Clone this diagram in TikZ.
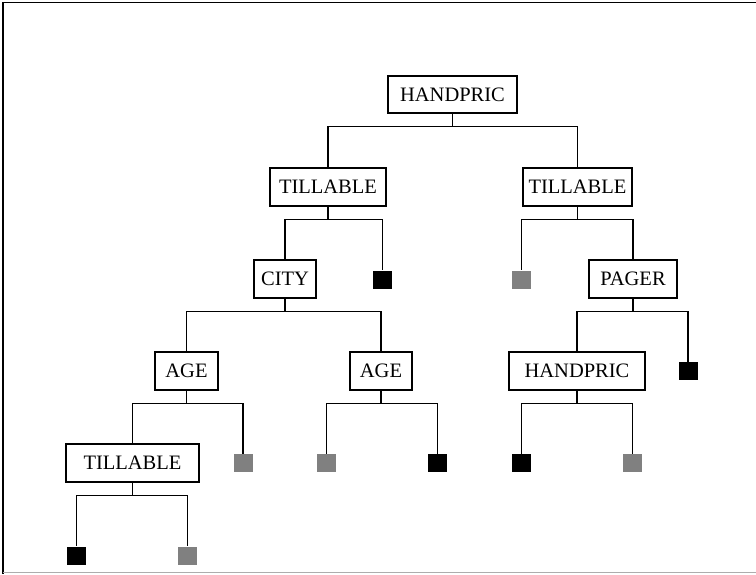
\documentclass[tikz,border=0pt]{standalone}
\usepackage{fontspec}
\setmainfont{Liberation Serif}
\begin{document}
\begin{tikzpicture}[x=1pt,y=-1pt,
  box/.style={draw=black,line width=1.1pt,fill=white,minimum height=38pt,inner sep=0pt,
    font=\fontsize{20.5}{23}\selectfont},
  leafb/.style={fill=black,minimum width=19pt,minimum height=18pt,inner sep=0pt},
  leafg/.style={fill=gray,minimum width=19pt,minimum height=18pt,inner sep=0pt},
  conn/.style={draw=black,line width=1.2pt}]
\useasboundingbox (0,0) rectangle (756,574);
% frame
\draw[line width=1.5pt] (3,2.3) -- (756,2.3);
\draw[line width=1.4pt] (3,2.3) -- (3,574);
\draw[line width=1.2pt,draw=black!32] (3,572.8) -- (756,572.8);
% nodes
\node[box,minimum width=129pt,minimum height=37pt] (root) at (452.5,94.5) {HANDPRIC};
\node[box,minimum width=116pt] (t1) at (328,187) {TILLABLE};
\node[box,minimum width=109pt] (t2) at (577.5,187) {TILLABLE};
\node[box,minimum width=62pt] (city) at (285,279) {CITY};
\node[leafb] (l1) at (382.5,279.5) {};
\node[leafg] (l2) at (521.5,279.5) {};
\node[box,minimum width=88pt] (pager) at (633,279) {PAGER};
\node[box,minimum width=63pt] (age1) at (186.5,371) {AGE};
\node[box,minimum width=62pt] (age2) at (381,371) {AGE};
\node[box,minimum width=136pt] (hp2) at (577,371) {HANDPRIC};
\node[leafb] (l3) at (688,371) {};
\node[box,minimum width=133pt] (t3) at (132.5,463) {TILLABLE};
\node[leafg] (l4) at (243,463) {};
\node[leafg] (l5) at (326.5,463) {};
\node[leafb] (l6) at (437.5,463) {};
\node[leafb] (l7) at (521.5,463) {};
\node[leafg] (l8) at (632.5,463) {};
\node[leafb] (l9) at (76.5,555.5) {};
\node[leafg] (l10) at (187.5,555.5) {};
% connectors
\foreach \p/\a/\b in {root/t1/t2, t1/city/l1, t2/l2/pager, city/age1/age2,
  age1/t3/l4, age2/l5/l6, pager/hp2/l3, hp2/l7/l8, t3/l9/l10}{
  \draw[conn] (\p.south) -- ([yshift=-13pt]\p.south) coordinate (m);
  \draw[conn] (m) -| (\a.north);
  \draw[conn] (m) -| (\b.north);
}
\end{tikzpicture}
\end{document}
